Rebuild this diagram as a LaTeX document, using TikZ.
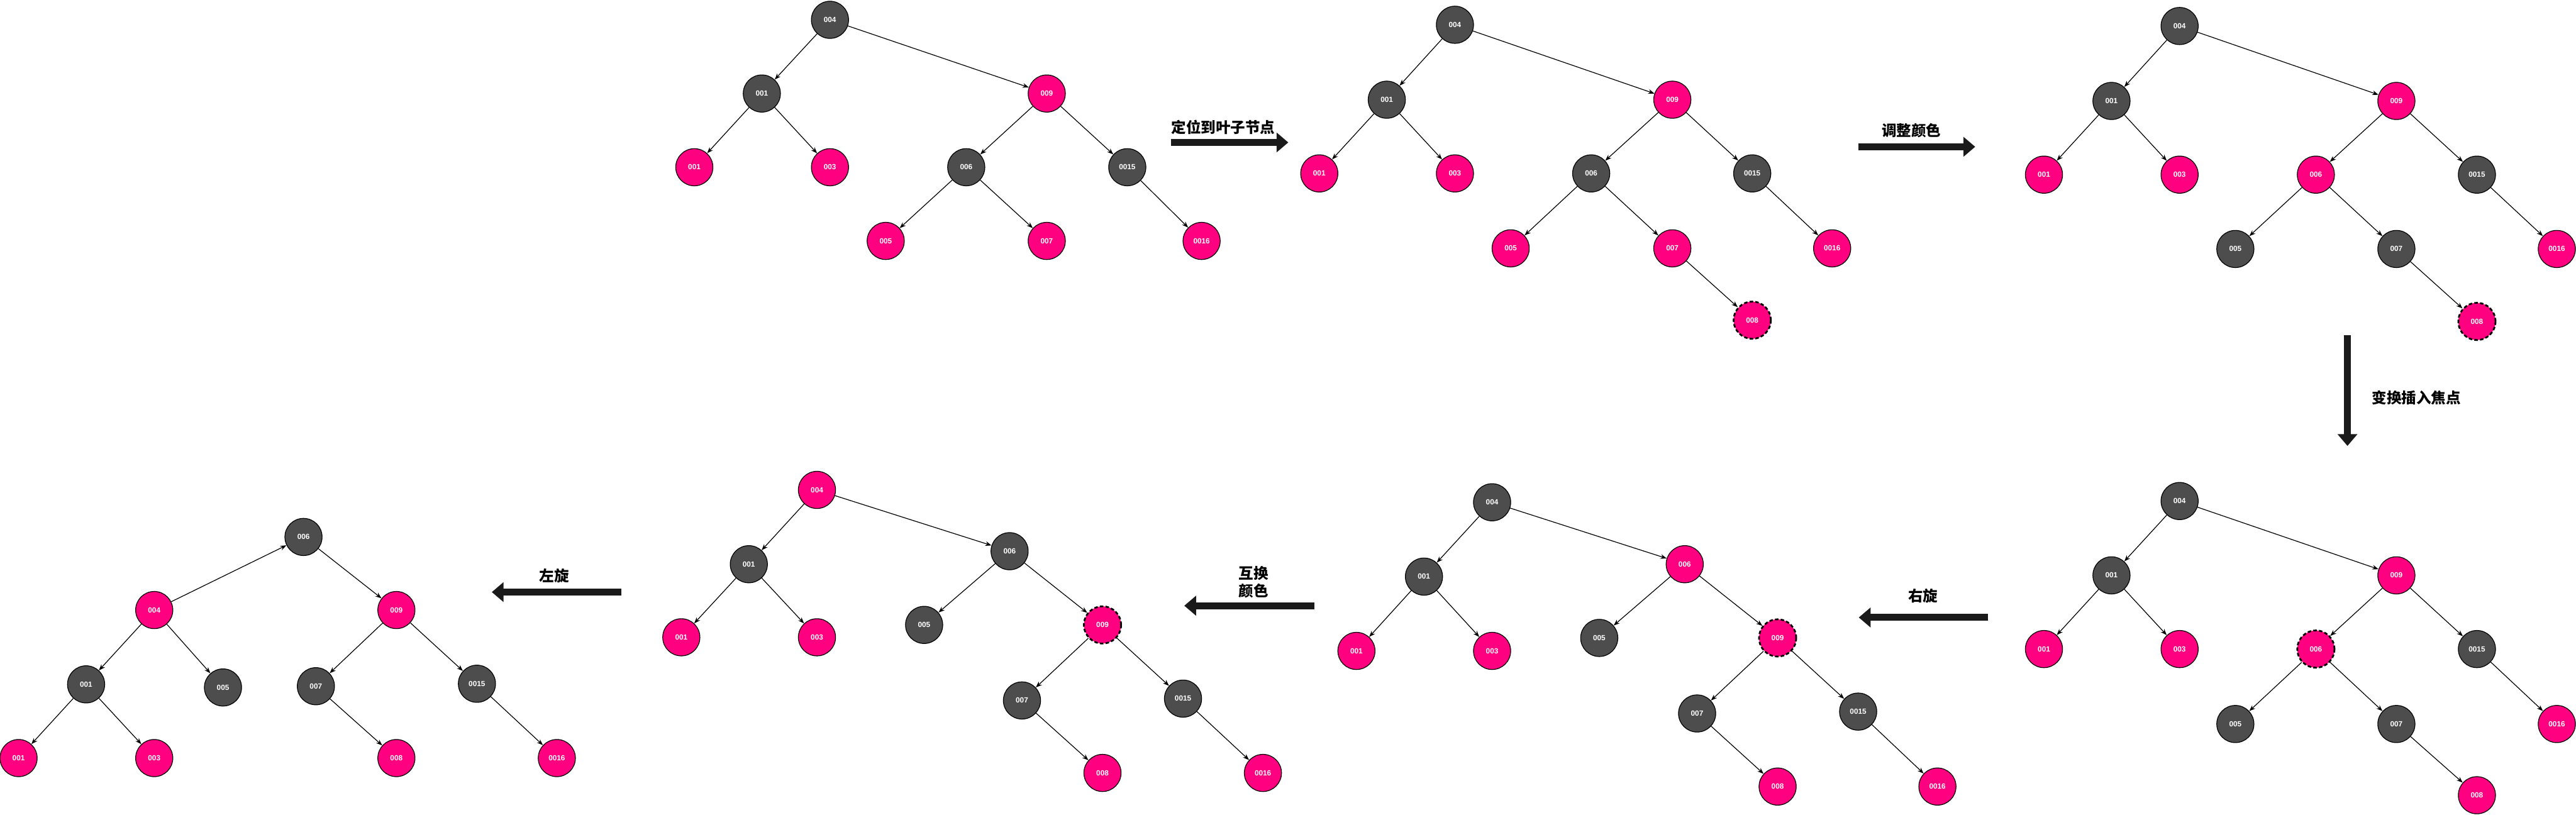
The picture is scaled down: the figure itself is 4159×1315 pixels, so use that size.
\documentclass[tikz,border=0pt]{standalone}
\usepackage{fontspec}
\setmainfont{Liberation Sans}
\newfontfamily\cjk{Noto Sans CJK SC}
\usetikzlibrary{arrows.meta}
\definecolor{rbpink}{HTML}{FF0080}
\definecolor{rbdark}{HTML}{4D4D4D}
\definecolor{arrowblk}{HTML}{1A1A1A}
\tikzset{
  rbnode/.style={circle, draw=black, line width=0.35pt, minimum size=0.6cm, inner sep=0pt,
    text=white, font=\fontsize{3.4}{4}\selectfont\bfseries},
  blk/.style={rbnode, fill=rbdark},
  pk/.style={rbnode, fill=rbpink},
  focus/.style={rbnode, fill=rbpink, line width=0.8pt, dash pattern=on 1.6pt off 1pt},
  edge/.style={-{Stealth[length=0.1cm,width=0.075cm]}, line width=0.35pt, draw=black},
  bigarrow/.style={draw=arrowblk, line width=0.11cm, -{Triangle[length=0.19cm,width=0.31cm]}},
  lbl/.style={font=\cjk\bfseries\fontsize{6.8}{8}\selectfont, text=black, inner sep=0pt}
}
\begin{document}
\begin{tikzpicture}[x=0.01cm, y=-0.01cm]
\useasboundingbox (0,0) rectangle (4159,1315);

% ---------- Tree 1 ----------
\begin{scope}[shift={(1340,32)}]
\node[blk] (t1a) at (0,0) {004};
\node[blk] (t1b) at (-110,119) {001};
\node[pk]  (t1c) at (350,119) {009};
\node[pk]  (t1d) at (-219,238) {001};
\node[pk]  (t1e) at (0,238) {003};
\node[blk] (t1f) at (220,238) {006};
\node[blk] (t1g) at (480,238) {0015};
\node[pk]  (t1h) at (90,357) {005};
\node[pk]  (t1i) at (350,357) {007};
\node[pk]  (t1j) at (600,357) {0016};
\end{scope}
\foreach \p/\c in {a/b,a/c,b/d,b/e,c/f,c/g,f/h,f/i,g/j}
  \draw[edge] (t1\p) -- (t1\c);

% ---------- Tree 2 ----------
\begin{scope}[shift={(2349,40)}]
\node[blk] (t2a) at (0,0) {004};
\node[blk] (t2b) at (-110,121) {001};
\node[pk]  (t2c) at (351,121) {009};
\node[pk]  (t2d) at (-219,240) {001};
\node[pk]  (t2e) at (0,240) {003};
\node[blk] (t2f) at (220,240) {006};
\node[blk] (t2g) at (480,240) {0015};
\node[pk]  (t2h) at (90,361) {005};
\node[pk]  (t2i) at (351,361) {007};
\node[pk]  (t2j) at (609,361) {0016};
\node[focus] (t2k) at (480,477) {008};
\end{scope}
\foreach \p/\c in {a/b,a/c,b/d,b/e,c/f,c/g,f/h,f/i,g/j,i/k}
  \draw[edge] (t2\p) -- (t2\c);

% ---------- Tree 3 ----------
\begin{scope}[shift={(3519,42)}]
\node[blk] (t3a) at (0,0) {004};
\node[blk] (t3b) at (-110,121) {001};
\node[pk]  (t3c) at (350,121) {009};
\node[pk]  (t3d) at (-219,240) {001};
\node[pk]  (t3e) at (0,240) {003};
\node[pk]  (t3f) at (220,240) {006};
\node[blk] (t3g) at (480,240) {0015};
\node[blk] (t3h) at (90,360) {005};
\node[blk] (t3i) at (350,360) {007};
\node[pk]  (t3j) at (609,360) {0016};
\node[focus] (t3k) at (480,477) {008};
\end{scope}
\foreach \p/\c in {a/b,a/c,b/d,b/e,c/f,c/g,f/h,f/i,g/j,i/k}
  \draw[edge] (t3\p) -- (t3\c);

% ---------- Tree 4 ----------
\begin{scope}[shift={(3519,809)}]
\node[blk] (t4a) at (0,0) {004};
\node[blk] (t4b) at (-110,120) {001};
\node[pk]  (t4c) at (350,120) {009};
\node[pk]  (t4d) at (-219,239) {001};
\node[pk]  (t4e) at (0,239) {003};
\node[focus] (t4f) at (220,239) {006};
\node[blk] (t4g) at (480,239) {0015};
\node[blk] (t4h) at (90,360) {005};
\node[blk] (t4i) at (350,360) {007};
\node[pk]  (t4j) at (609,360) {0016};
\node[pk]  (t4k) at (480,475) {008};
\end{scope}
\foreach \p/\c in {a/b,a/c,b/d,b/e,c/f,c/g,f/h,f/i,g/j,i/k}
  \draw[edge] (t4\p) -- (t4\c);

% ---------- Tree 5 ----------
\begin{scope}[shift={(2409,811)}]
\node[blk] (t5a) at (0,0) {004};
\node[blk] (t5b) at (-110,120) {001};
\node[pk]  (t5c) at (311,100) {006};
\node[pk]  (t5d) at (-219,240) {001};
\node[pk]  (t5e) at (0,240) {003};
\node[blk] (t5f) at (173,219) {005};
\node[focus] (t5g) at (461,219) {009};
\node[blk] (t5h) at (331,341) {007};
\node[blk] (t5i) at (591,338) {0015};
\node[pk]  (t5j) at (461,459) {008};
\node[pk]  (t5k) at (719,459) {0016};
\end{scope}
\foreach \p/\c in {a/b,a/c,b/d,b/e,c/f,c/g,g/h,g/i,h/j,i/k}
  \draw[edge] (t5\p) -- (t5\c);

% ---------- Tree 6 ----------
\begin{scope}[shift={(1319,791)}]
\node[pk]  (t6a) at (0,0) {004};
\node[blk] (t6b) at (-110,120) {001};
\node[blk] (t6c) at (311,99) {006};
\node[pk]  (t6d) at (-219,238) {001};
\node[pk]  (t6e) at (0,238) {003};
\node[blk] (t6f) at (173,218) {005};
\node[focus] (t6g) at (461,218) {009};
\node[blk] (t6h) at (331,340) {007};
\node[blk] (t6i) at (591,337) {0015};
\node[pk]  (t6j) at (461,457) {008};
\node[pk]  (t6k) at (720,457) {0016};
\end{scope}
\foreach \p/\c in {a/b,a/c,b/d,b/e,c/f,c/g,g/h,g/i,h/j,i/k}
  \draw[edge] (t6\p) -- (t6\c);

% ---------- Tree 7 ----------
\node[blk] (t7a) at (490,867) {006};
\node[pk]  (t7b) at (249,985) {004};
\node[pk]  (t7c) at (640,985) {009};
\node[blk] (t7d) at (139,1105) {001};
\node[blk] (t7e) at (360,1110) {005};
\node[blk] (t7f) at (510,1108) {007};
\node[blk] (t7g) at (770,1104) {0015};
\node[pk]  (t7h) at (30,1224) {001};
\node[pk]  (t7i) at (249,1224) {003};
\node[pk]  (t7j) at (640,1224) {008};
\node[pk]  (t7k) at (899,1224) {0016};
\foreach \p/\c in {b/a,a/c,b/d,b/e,d/h,d/i,c/f,c/g,f/j,g/k}
  \draw[edge] (t7\p) -- (t7\c);

% ---------- Step arrows ----------
\coordinate (s1a) at (1891,230); \coordinate (s1b) at (2080,230);
\draw[bigarrow] (s1a) -- (s1b);
\node[lbl] (l1) at (1975,205) {定位到叶子节点};

\coordinate (s2a) at (3000,237); \coordinate (s2b) at (3189,237);
\draw[bigarrow] (s2a) -- (s2b);
\node[lbl] (l2) at (3086,211) {调整颜色};

\coordinate (s3a) at (3790,541); \coordinate (s3b) at (3790,720);
\draw[bigarrow] (s3a) -- (s3b);
\node[lbl, anchor=west] (l3) at (3829,642) {变换插入焦点};

\coordinate (s4a) at (3210,997); \coordinate (s4b) at (3001,997);
\draw[bigarrow] (s4a) -- (s4b);
\node[lbl] (l4) at (3105,962) {右旋};

\coordinate (s5a) at (2122,978); \coordinate (s5b) at (1912,978);
\draw[bigarrow] (s5a) -- (s5b);
\node[lbl, align=center] (l5) at (2024,940) {互换\\颜色};

\coordinate (s6a) at (1003,956); \coordinate (s6b) at (794,956);
\draw[bigarrow] (s6a) -- (s6b);
\node[lbl] (l6) at (895,930) {左旋};
\end{tikzpicture}
\end{document}
